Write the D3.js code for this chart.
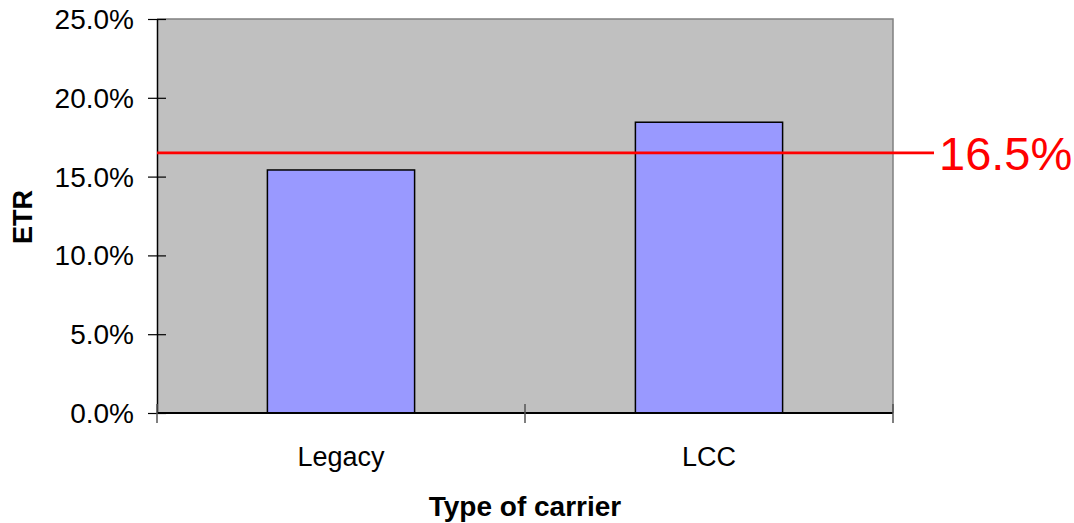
<!DOCTYPE html>
<html>
<head>
<meta charset="utf-8">
<script src="https://cdn.jsdelivr.net/npm/d3@7/dist/d3.min.js"></script>
<style>
  html, body { margin: 0; padding: 0; background: #fff; }
  svg text { font-family: "Liberation Sans", Arial, sans-serif; }
</style>
</head>
<body>
<svg id="chart" width="1074" height="523"></svg>
<script>
// Effective tax rate by carrier type
const categories = ["Legacy", "LCC"];
const etrValues = [0.1542, 0.1845];
const benchmark = 0.165;
const benchmarkLabel = "16.5%";
const yTicks = [0, 0.05, 0.10, 0.15, 0.20, 0.25];

const svg = d3.select("#chart");
const plot = { left: 157, right: 893, top: 19, bottom: 413 };

const x = d3.scaleBand()
  .domain(categories)
  .range([plot.left, plot.right])
  .paddingInner(0.6)
  .paddingOuter(0.3);

const y = d3.scaleLinear()
  .domain([0, 0.25])
  .range([plot.bottom, plot.top]);

// plot background
svg.append("rect")
  .attr("x", plot.left).attr("y", plot.top)
  .attr("width", plot.right - plot.left)
  .attr("height", plot.bottom - plot.top)
  .attr("fill", "#C0C0C0");

// grey frame on top and right
svg.append("path")
  .attr("d", `M${plot.left},${plot.top}H${plot.right}V${plot.bottom}`)
  .attr("fill", "none")
  .attr("stroke", "#808080")
  .attr("stroke-width", 1.5);

// bars
svg.selectAll("rect.bar")
  .data(categories.map((c, i) => ({ c, v: etrValues[i] })))
  .join("rect")
  .attr("class", "bar")
  .attr("x", d => x(d.c))
  .attr("y", d => y(d.v))
  .attr("width", x.bandwidth())
  .attr("height", d => y(0) - y(d.v))
  .attr("fill", "#9999FF")
  .attr("stroke", "#000")
  .attr("stroke-width", 1.5);

// y axis
const yAxis = d3.axisLeft(y)
  .tickValues(yTicks)
  .tickFormat(d3.format(".1%"))
  .tickSizeInner(9)
  .tickSizeOuter(0)
  .tickPadding(14);

const gy = svg.append("g")
  .attr("transform", `translate(${plot.left},0)`)
  .call(yAxis);
gy.select(".domain").attr("stroke", "#000").attr("stroke-width", 1.5);
gy.selectAll(".tick line").attr("x2", 9).attr("x1", -9).attr("stroke", "#000").attr("stroke-width", 1.2);
gy.selectAll(".tick text")
  .attr("font-size", 28)
  .attr("fill", "#000")
  .attr("dy", "0.34em");

// x axis with crossing tick marks at the category boundaries
const gx = svg.append("g")
  .attr("transform", `translate(0,${plot.bottom})`);
gx.append("line")
  .attr("x1", plot.left).attr("x2", plot.right)
  .attr("stroke", "#000").attr("stroke-width", 2);
const step = (plot.right - plot.left) / categories.length;
const bounds = d3.range(categories.length + 1).map(i => plot.left + i * step);
gx.selectAll("line.tick")
  .data(bounds)
  .join("line")
  .attr("class", "tick")
  .attr("x1", d => d).attr("x2", d => d)
  .attr("y1", -9).attr("y2", 10)
  .attr("stroke", "#555").attr("stroke-width", 1.5);
gx.selectAll("text.cat")
  .data(categories)
  .join("text")
  .attr("class", "cat")
  .attr("x", d => x(d) + x.bandwidth() / 2)
  .attr("y", 53)
  .attr("text-anchor", "middle")
  .attr("font-size", 27)
  .attr("fill", "#000")
  .text(d => d);

// benchmark line and label
svg.append("line")
  .attr("x1", plot.left).attr("x2", 934)
  .attr("y1", y(benchmark)).attr("y2", y(benchmark))
  .attr("stroke", "#FF0000")
  .attr("stroke-width", 2.7);
svg.append("text")
  .attr("x", 939)
  .attr("y", y(benchmark))
  .attr("dy", "0.36em")
  .attr("font-size", 47)
  .attr("fill", "#FF0000")
  .text(benchmarkLabel);

// axis titles
svg.append("text")
  .attr("transform", `translate(32,217) rotate(-90)`)
  .attr("text-anchor", "middle")
  .attr("font-size", 27)
  .attr("font-weight", "bold")
  .attr("fill", "#000")
  .text("ETR");

svg.append("text")
  .attr("x", (plot.left + plot.right) / 2)
  .attr("y", 516)
  .attr("text-anchor", "middle")
  .attr("font-size", 28)
  .attr("font-weight", "bold")
  .attr("fill", "#000")
  .text("Type of carrier");
</script>
</body>
</html>
